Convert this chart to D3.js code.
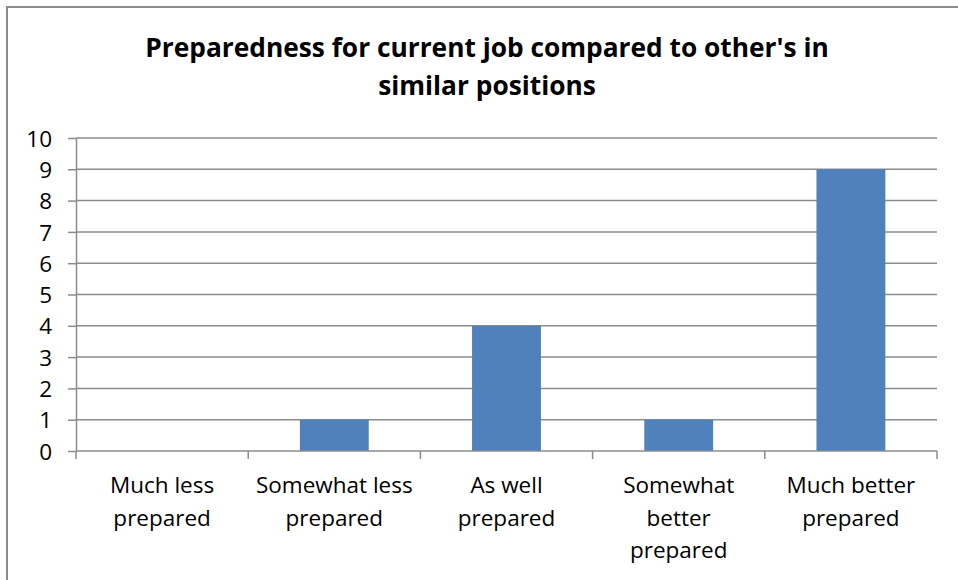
<!DOCTYPE html>
<meta charset="utf-8">
<title>Preparedness for current job</title>
<style>
body { margin: 0; background: #fff; }
svg { display: block; font-family: "Open Sans", Lato, sans-serif; }
.frame { fill: #fff; stroke: #8c8c8c; stroke-width: 2px; }
.grid line { stroke: #8c8c8c; stroke-width: 1.5px; }
.axis path, .axis line { stroke: #8c8c8c; stroke-width: 1.5px; }
.axis text { fill: #000; font-size: 22.5px; font-family: "Open Sans", Lato, sans-serif; }
.bar { fill: #4f81bd; }
.title { font-weight: bold; font-size: 26.3px; fill: #000; text-anchor: middle; }
</style>
<svg id="chart" width="958" height="580"></svg>
<script src="https://d3js.org/d3.v7.min.js"></script>
<script>
// data
let categories = [
  ["Much less", "prepared"],
  ["Somewhat less", "prepared"],
  ["As well", "prepared"],
  ["Somewhat", "better", "prepared"],
  ["Much better", "prepared"]
];
let counts = [0, 1, 4, 1, 9];
let yTicks = [0, 1, 2, 3, 4, 5, 6, 7, 8, 9, 10];
let titleLines = ["Preparedness for current job compared to other's in", "similar positions"];

let svg = d3.select("#chart"),
    margin = {top: 138, right: 21, bottom: 129, left: 76},
    width = 958 - margin.left - margin.right,
    height = 580 - margin.top - margin.bottom;

// outer frame
svg.append("rect")
    .attr("class", "frame")
    .attr("x", 7).attr("y", 7)
    .attr("width", 1000).attr("height", 1000);

svg.append("text")
    .attr("class", "title")
    .selectAll("tspan")
    .data(titleLines)
    .enter().append("tspan")
      .attr("x", 487)
      .attr("y", (d, i) => 57 + i * 38)
      .text(d => d);

let keys = categories.map(c => c.join(" "));

let x = d3.scaleBand().domain(keys).range([0, width]).paddingInner(0.6).paddingOuter(0.3),
    xb = d3.scaleBand().domain(keys).range([0, width]),
    y = d3.scaleLinear().domain([0, 10]).range([height, 0]);

let g = svg.append("g").attr("transform", "translate(" + margin.left + "," + margin.top + ")");

// gridlines
g.append("g")
    .attr("class", "grid")
  .selectAll("line")
  .data(yTicks.filter(t => t > 0))
  .enter().append("line")
    .attr("x1", 0).attr("x2", width)
    .attr("y1", d => y(d)).attr("y2", d => y(d));

// bars
g.selectAll(".bar")
  .data(counts)
  .enter().append("rect")
    .attr("class", "bar")
    .attr("x", (d, i) => x(keys[i]))
    .attr("width", x.bandwidth())
    .attr("y", d => y(d))
    .attr("height", d => height - y(d));

// y axis
let yAxis = g.append("g")
    .attr("class", "axis")
    .call(d3.axisLeft(y).tickValues(yTicks).tickSize(8).tickSizeOuter(0).tickPadding(16));
yAxis.selectAll("text").attr("dy", "0.36em");

// x axis with ticks at band boundaries
let xAxis = g.append("g")
    .attr("class", "axis")
    .attr("transform", "translate(0," + height + ")");
xAxis.append("line")
    .attr("x1", 0).attr("x2", width)
    .attr("y1", 0).attr("y2", 0);
xAxis.selectAll(".tk")
  .data(keys.map(k => xb(k)).concat([width]))
  .enter().append("line")
    .attr("class", "tk")
    .attr("x1", d => d).attr("x2", d => d)
    .attr("y1", 0).attr("y2", 8);
xAxis.selectAll(".lbl")
  .data(categories)
  .enter().append("text")
    .attr("class", "lbl")
    .attr("text-anchor", "middle")
    .each(function (d, i) {
      d3.select(this).selectAll("tspan")
        .data(d)
        .enter().append("tspan")
          .attr("x", xb(keys[i]) + xb.bandwidth() / 2)
          .attr("y", (t, j) => 42 + j * 32.5)
          .text(t => t);
    });
</script>
